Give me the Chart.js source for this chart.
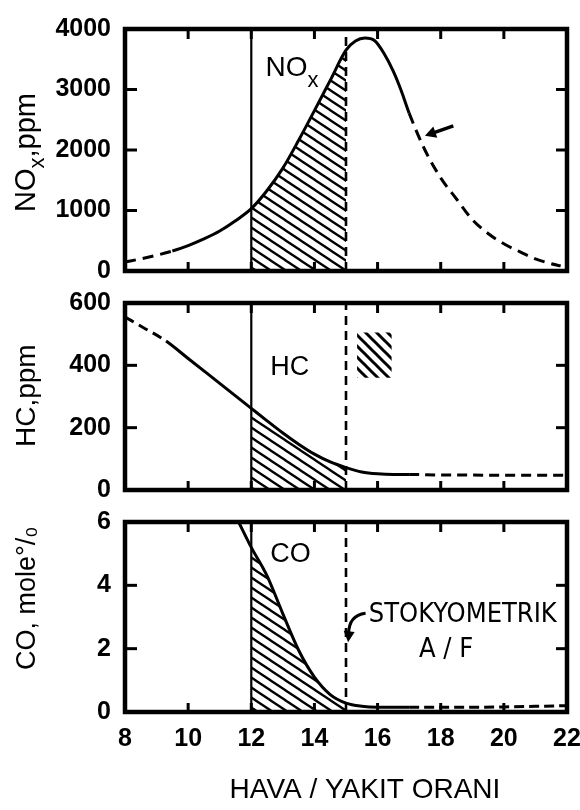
<!DOCTYPE html>
<html><head><meta charset="utf-8">
<script src="https://cdn.jsdelivr.net/npm/chart.js@4.4.1/dist/chart.umd.min.js"></script>
<style>
html,body{margin:0;padding:0;background:#fff;}
#wrap{position:relative;width:580px;height:810px;background:#fff;}
canvas{position:absolute;left:0;top:0;}
</style></head><body>
<div id="wrap">
<canvas id="c1" width="580" height="810"></canvas>
<canvas id="c2" width="580" height="810"></canvas>
<canvas id="c3" width="580" height="810"></canvas>
</div>
<script>
// ---------- data ----------
const xTicks = [8, 10, 12, 14, 16, 18, 20, 22];
const stoichAF = 15.0;
const richLimit = 12;

const afrNOx = [8, 8.5, 9, 9.5, 10, 10.5, 11, 11.5, 12, 12.5, 13, 13.5, 14, 14.5, 15, 15.3, 15.6, 15.9, 16.2, 16.5, 16.75, 17, 17.5, 18, 18.5, 19, 19.5, 20, 20.5, 21, 21.5, 21.8];
const noxPpm = [150, 200, 260, 330, 420, 530, 660, 830, 1030, 1330, 1700, 2160, 2650, 3150, 3650, 3800, 3850, 3810, 3600, 3300, 2980, 2610, 2000, 1540, 1190, 850, 620, 450, 320, 200, 120, 85];

const afrHC = [8, 8.6, 9.3, 10, 11, 12, 12.5, 13, 13.5, 14, 14.5, 15, 15.5, 16, 16.5, 17, 18, 19, 20, 21, 22];
const hcPpm = [555, 520, 478, 422, 342, 262, 222, 183, 147, 115, 90, 72, 58, 52, 50, 50, 48, 48, 47, 47, 47];

const afrCO = [11.6, 12, 12.5, 13, 13.5, 14, 14.5, 15, 15.5, 16, 17, 18, 19, 20, 21, 22];
const coPct = [6.0, 5.2, 4.3, 3.1, 1.95, 1.1, 0.55, 0.28, 0.18, 0.15, 0.15, 0.15, 0.15, 0.16, 0.18, 0.2];

const noxTicks = [0, 1000, 2000, 3000, 4000];
const hcTicks = [0, 200, 400, 600];
const coTicks = [0, 2, 4, 6];

// ---------- helpers ----------
const NARROW = "'Liberation Sans Narrow','DejaVu Sans Condensed','Arial Narrow',sans-serif";
const SANS = "'Liberation Sans',Arial,sans-serif";
const tickFont = {family: SANS, size: 25, weight: 'bold', lineHeight: 1.2};

const pts = (xs, ys) => xs.map((x, i) => ({x, y: ys[i]}));
const inRange = (xs, ys, a, b) => pts(xs, ys).filter(p => p.x >= a && p.x <= b);

function hatch(w, h, lw) {
  const c = document.createElement('canvas'); c.width = w; c.height = h;
  const g = c.getContext('2d');
  g.strokeStyle = '#000'; g.lineWidth = lw;
  for (const o of [-h, 0, h]) { g.beginPath(); g.moveTo(-w, -h + o); g.lineTo(2 * w, 2 * h + o); g.stroke(); }
  return g.createPattern(c, 'repeat');
}
const hatchMain = hatch(15, 10, 2.3);
const hatchSwatch = hatch(11, 11, 3);

const dashOutside = (lo, hi, dash) => ({
  borderDash: ctx => (ctx.p0.parsed.x < lo || ctx.p0.parsed.x >= hi) ? dash : undefined
});

function curve(data, lo, hi, dash) {
  return {data, borderColor: '#000', borderWidth: 3, cubicInterpolationMode: 'monotone',
    fill: false, pointRadius: 0, order: 1, segment: dashOutside(lo, hi, dash)};
}
function hatchSet(data, pattern) {
  return {data, borderWidth: 0, borderColor: 'rgba(0,0,0,0)', backgroundColor: pattern,
    cubicInterpolationMode: 'monotone', fill: 'origin', pointRadius: 0, order: 5};
}
function vline(x, ymax, dashed) {
  return {data: [{x, y: 0}, {x, y: ymax}], borderColor: '#000', borderWidth: dashed ? 2.6 : 2.2,
    borderDash: dashed ? [9, 6] : [], pointRadius: 0, fill: false, order: 2};
}

const framePlugin = {
  id: 'frame',
  afterDatasetsDraw(chart) {
    const {ctx, chartArea: a, scales: {x, y}} = chart;
    const ln = (x1, y1, x2, y2) => { ctx.beginPath(); ctx.moveTo(x1, y1); ctx.lineTo(x2, y2); ctx.stroke(); };
    ctx.save();
    ctx.strokeStyle = '#000';
    ctx.lineWidth = 3;
    x.ticks.forEach(t => {
      if (t.value <= x.min || t.value >= x.max) return;
      const px = x.getPixelForValue(t.value);
      ln(px, a.top, px, a.top + 10); ln(px, a.bottom, px, a.bottom - 9);
    });
    y.ticks.forEach(t => {
      if (t.value <= y.min || t.value >= y.max) return;
      const py = y.getPixelForValue(t.value);
      ln(a.left, py, a.left + 12, py); ln(a.right, py, a.right - 11, py);
    });
    ctx.lineWidth = 4.5;
    ctx.strokeRect(a.left, a.top, a.right - a.left, a.bottom - a.top);
    ctx.restore();
  }
};

function vtitle(ctx, parts, x, yStart) {
  ctx.save(); ctx.translate(x, yStart); ctx.rotate(-Math.PI / 2);
  ctx.fillStyle = '#000'; ctx.textBaseline = 'alphabetic'; ctx.textAlign = 'left';
  let cx = 0;
  for (const p of parts) { ctx.font = p.font; ctx.fillText(p.t, cx, p.dy || 0); cx += ctx.measureText(p.t).width; }
  ctx.restore();
}
function arrowHead(ctx, x, y, ang, len, wid) {
  ctx.beginPath();
  ctx.moveTo(x, y);
  ctx.lineTo(x - len * Math.cos(ang) + wid * Math.sin(ang), y - len * Math.sin(ang) - wid * Math.cos(ang));
  ctx.lineTo(x - len * Math.cos(ang) - wid * Math.sin(ang), y - len * Math.sin(ang) + wid * Math.cos(ang));
  ctx.closePath(); ctx.fill();
}

function panel(id, o) {
  return new Chart(document.getElementById(id), {
    type: 'line',
    data: {datasets: o.datasets},
    options: {
      responsive: false, animation: false, events: [],
      layout: {padding: {top: o.top, bottom: o.bottom, left: 0, right: 13}},
      plugins: {legend: {display: false}, tooltip: {enabled: false}},
      scales: {
        x: {type: 'linear', min: 8, max: 22, display: o.showX,
          afterBuildTicks: s => { s.ticks = xTicks.map(v => ({value: v})); },
          ticks: {font: tickFont, color: '#000', padding: 12, maxRotation: 0, callback: v => String(v)},
          grid: {display: false, drawTicks: false}, border: {display: false},
          afterFit: s => { if (o.showX) { s.height = o.xHeight; } s.paddingLeft = 0; s.paddingRight = 0; }
        },
        y: {type: 'linear', min: 0, max: o.yTicks[o.yTicks.length - 1],
          afterBuildTicks: s => { s.ticks = o.yTicks.map(v => ({value: v})); },
          ticks: {font: tickFont, color: '#000', padding: 14, callback: v => String(v)},
          grid: {display: false, drawTicks: false}, border: {display: false},
          afterFit: s => { s.width = 125; }
        }
      }
    },
    plugins: [framePlugin, {id: 'labels', afterDraw: o.draw}]
  });
}

// ---------- NOx ----------
panel('c1', {
  top: 22, bottom: 810 - 271, showX: false, yTicks: noxTicks,
  datasets: [
    curve(pts(afrNOx, noxPpm), 9.5, 17, [11, 7]),
    vline(richLimit, 4000, false),
    vline(stoichAF, 4000, true),
    hatchSet(inRange(afrNOx, noxPpm, richLimit, stoichAF), hatchMain)
  ],
  draw(chart) {
    const {ctx, scales: {x, y}} = chart;
    ctx.save(); ctx.fillStyle = '#000'; ctx.strokeStyle = '#000';
    ctx.font = "28px " + SANS; ctx.textAlign = 'left'; ctx.textBaseline = 'alphabetic';
    const lx = x.getPixelForValue(12.45), ly = y.getPixelForValue(3230);
    ctx.fillText('NO', lx, ly);
    const w = ctx.measureText('NO').width;
    ctx.font = "22px " + SANS; ctx.fillText('x', lx + w, ly + 11);
    // arrow
    const hx = x.getPixelForValue(17.5), hy = y.getPixelForValue(2235);
    const tx = x.getPixelForValue(18.4), ty = y.getPixelForValue(2400);
    const ang = Math.atan2(hy - ty, hx - tx);
    ctx.lineWidth = 3.5;
    ctx.beginPath(); ctx.moveTo(tx, ty); ctx.lineTo(hx - 6 * Math.cos(ang), hy - 6 * Math.sin(ang)); ctx.stroke();
    arrowHead(ctx, hx, hy, ang, 11, 6);
    ctx.restore();
    vtitle(ctx, [
      {t: 'NO', font: "29px " + SANS},
      {t: 'x', font: "22px " + SANS, dy: 9},
      {t: ',ppm', font: "29px " + SANS}
    ], 35, 212);
  }
});

// ---------- HC ----------
panel('c2', {
  top: 303, bottom: 810 - 490, showX: false, yTicks: hcTicks,
  datasets: [
    curve(pts(afrHC, hcPpm), 9.3, 17, [10, 6]),
    vline(richLimit, 600, false),
    vline(stoichAF, 600, true),
    hatchSet(inRange(afrHC, hcPpm, richLimit, stoichAF), hatchMain),
    {data: [{x: 15.35, y: 505}, {x: 16.45, y: 505}], borderWidth: 0, borderColor: 'rgba(0,0,0,0)',
      backgroundColor: hatchSwatch, fill: {value: 360}, pointRadius: 0, order: 6}
  ],
  draw(chart) {
    const {ctx, scales: {x, y}} = chart;
    ctx.save(); ctx.fillStyle = '#000';
    ctx.font = "27px " + SANS; ctx.textAlign = 'left'; ctx.textBaseline = 'alphabetic';
    ctx.fillText('HC', x.getPixelForValue(12.6), y.getPixelForValue(369));
    ctx.restore();
    vtitle(ctx, [{t: 'HC,ppm', font: "28px " + SANS}], 35, 447);
  }
});

// ---------- CO ----------
panel('c3', {
  top: 522, bottom: 0, showX: true, xHeight: 810 - 712, yTicks: coTicks,
  datasets: [
    curve(pts(afrCO, coPct), 0, 17, [10, 5]),
    vline(richLimit, 6, false),
    vline(stoichAF, 6, true),
    hatchSet(inRange(afrCO, coPct, richLimit, stoichAF), hatchMain)
  ],
  draw(chart) {
    const {ctx, scales: {x, y}} = chart;
    ctx.save(); ctx.fillStyle = '#000'; ctx.strokeStyle = '#000';
    ctx.font = "27px " + SANS; ctx.textAlign = 'left'; ctx.textBaseline = 'alphabetic';
    ctx.fillText('CO', x.getPixelForValue(12.6), y.getPixelForValue(4.74));
    ctx.font = "27px " + NARROW; ctx.textAlign = 'center';
    ctx.fillText('STOKYOMETRIK', x.getPixelForValue(18.7), y.getPixelForValue(2.84));
    ctx.fillText('A / F', x.getPixelForValue(18.17), y.getPixelForValue(1.74));
    // curved arrow
    const sx = x.getPixelForValue(15.62), sy = y.getPixelForValue(3.12);
    const ex = x.getPixelForValue(15.05), ey = y.getPixelForValue(2.2);
    ctx.lineWidth = 3;
    ctx.beginPath(); ctx.moveTo(sx, sy);
    ctx.quadraticCurveTo(ex + 1, sy + 2, ex + 1, ey - 8); ctx.stroke();
    arrowHead(ctx, ex + 0.5, ey, Math.PI / 2 + 0.1, 11, 5.5);
    // x-axis title
    ctx.font = "28px " + SANS; ctx.textBaseline = 'middle'; ctx.textAlign = 'center';
    ctx.fillText('HAVA / YAKIT ORANI', x.getPixelForValue(15.6), 790);
    ctx.restore();
    vtitle(ctx, [{t: 'CO, mole°/₀', font: "27px " + SANS}], 35, 670);
  }
});
</script>
</body></html>
